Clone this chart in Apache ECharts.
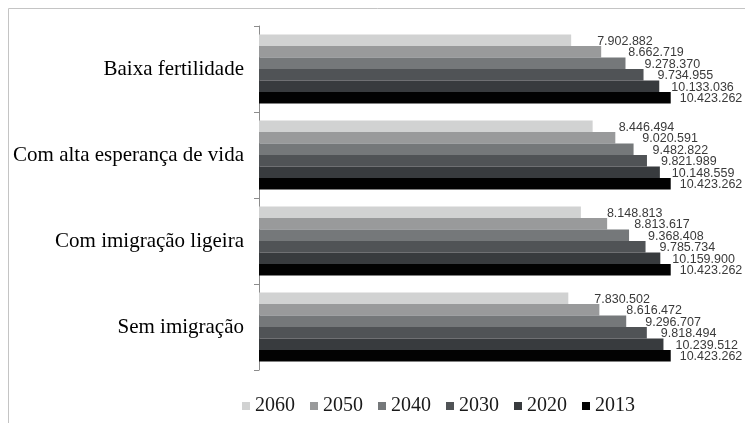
<!DOCTYPE html>
<html>
<head>
<meta charset="utf-8">
<script src="https://cdn.jsdelivr.net/npm/echarts@6/dist/echarts.min.js"></script>
<style>
  html, body { margin: 0; padding: 0; background: #fff; }
  #chart { width: 745px; height: 423px; }
</style>
</head>
<body>
<div id="chart"></div>
<script>
var categories = ['Baixa fertilidade', 'Com alta esperança de vida', 'Com imigração ligeira', 'Sem imigração'];
var years = ['2060', '2050', '2040', '2030', '2020', '2013'];
var values2060 = [7902882, 8446494, 8148813, 7830502];
var values2050 = [8662719, 9020591, 8813617, 8616472];
var values2040 = [9278370, 9482822, 9368408, 9296707];
var values2030 = [9734955, 9821989, 9785734, 9818494];
var values2020 = [10133036, 10148559, 10159900, 10239512];
var values2013 = [10423262, 10423262, 10423262, 10423262];

var seriesValues = [values2060, values2050, values2040, values2030, values2020, values2013];
var colors = ['#d1d2d2', '#999a9b', '#75787a', '#505356', '#383b3e', '#020202'];
var labelDistances = [26, 27, 19, 14, 12, 9];

function fmt(v) {
  return String(v).replace(/\B(?=(\d{3})+(?!\d))/g, '.');
}

var chart = echarts.init(document.getElementById('chart'), null, { renderer: 'canvas' });

var series = years.map(function (y, i) {
  return {
    name: y,
    type: 'bar',
    data: seriesValues[i],
    barGap: '0%',
    barCategoryGap: '20%',
    itemStyle: { color: colors[i] },
    label: {
      show: true,
      position: 'right',
      distance: labelDistances[i],
      offset: [0, 1],
      fontFamily: 'Liberation Sans',
      fontSize: 12.5,
      color: '#3a3a3a',
      formatter: function (p) { return fmt(p.value); }
    },
    emphasis: { disabled: true },
    animation: false
  };
});

chart.setOption({
  animation: false,
  color: colors,
  graphic: [{
    type: 'rect',
    shape: { x: 8.5, y: 8.5, width: 900, height: 600 },
    style: { fill: 'none', stroke: '#c4c4c4', lineWidth: 1 },
    silent: true,
    z: -10
  }],
  grid: { left: 259, right: 12, top: 26, bottom: 53, containLabel: false },
  legend: {
    data: years,
    left: 237,
    top: 391,
    itemWidth: 8,
    itemHeight: 8,
    itemGap: 15,
    icon: 'rect',
    textStyle: { fontFamily: 'Liberation Serif', fontSize: 20, color: '#1a1a1a' }
  },
  xAxis: {
    type: 'value',
    min: 0,
    max: 12000000,
    show: false
  },
  yAxis: {
    type: 'category',
    data: categories,
    inverse: true,
    axisLine: { show: true, lineStyle: { color: '#8c8c8c', width: 1 } },
    axisTick: { show: true, length: 5, lineStyle: { color: '#8c8c8c' } },
    axisLabel: { margin: 15, fontFamily: 'Liberation Serif', fontSize: 21, color: '#000' },
    splitLine: { show: false }
  },
  series: series
});
</script>
</body>
</html>
